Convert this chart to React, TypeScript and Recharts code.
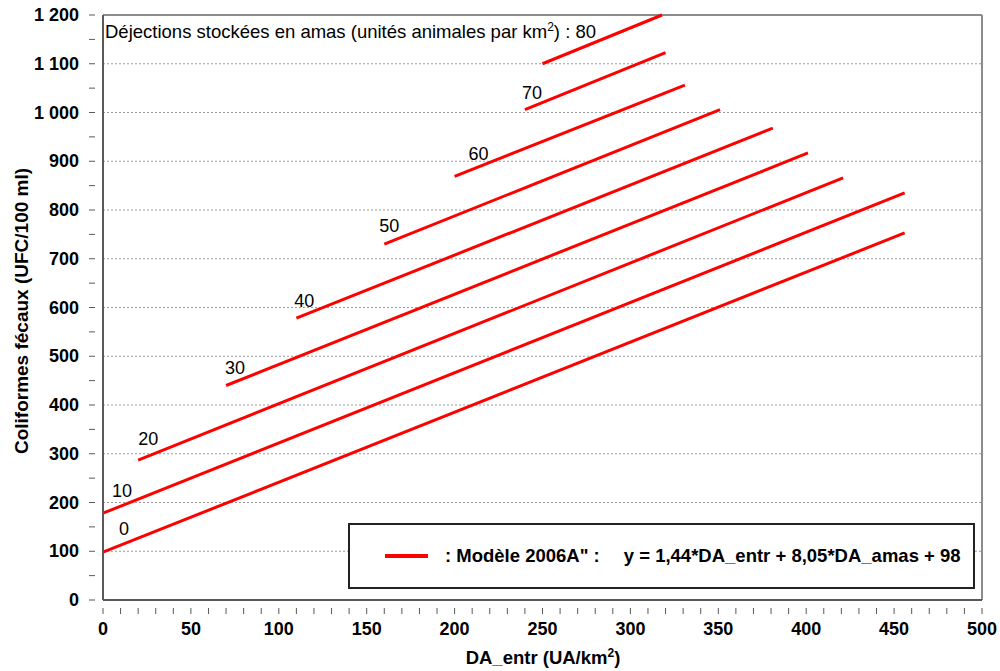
import React from "react";
import {
  LineChart,
  Line,
  XAxis,
  YAxis,
  ReferenceLine,
} from "recharts";

// DA_amas levels, one red line each
const amasLevels = [0, 10, 20, 30, 40, 50, 60, 70, 80];
const startX = [0, 0, 20, 70, 110, 160, 200, 240, 250];
const startY = [98, 178, 287, 440, 578, 730, 869, 1006, 1100];
const endX = [456, 456, 421, 401, 381, 351, 331, 320, 318];
const endY = [753, 835, 866, 917, 968, 1006, 1056, 1123, 1200];

const xTicks = Array.from({ length: 51 }, (_, i) => i * 10);
const yTicks = Array.from({ length: 25 }, (_, i) => i * 50);
const gridValues = [100, 200, 300, 400, 500, 600, 700, 800, 900, 1000, 1100];

// pixel offset of each level label from the start of its line
const labelOffsets: Array<[number, number] | null> = [
  [21, -23],
  [19, -22],
  [10, -21],
  [9, -18],
  [8, -17],
  [5, -18],
  [24, -22],
  [7, -17],
  null,
];

const FONT = '"Liberation Sans", Arial, sans-serif';
const RED = "#ff0000";

const series = amasLevels.map((level, i) => ({
  level,
  data: [
    { x: startX[i], y: startY[i] },
    { x: endX[i], y: endY[i] },
  ],
}));

function formatThousands(v: number) {
  return String(v).replace(/\B(?=(\d{3})+(?!\d))/g, " ");
}

function XTick({ x, y, payload }: any) {
  const v = payload.value as number;
  return (
    <g>
      <line x1={x} x2={x} y1={y} y2={y + 6} stroke="#595959" strokeWidth={1} />
      {v % 50 === 0 && (
        <text x={x} y={y + 27} textAnchor="middle" fontFamily={FONT} fontSize={18} fontWeight="bold" fill="#000">
          {v}
        </text>
      )}
    </g>
  );
}

function YTick({ x, y, payload }: any) {
  const v = payload.value as number;
  return (
    <g>
      <line x1={x - 6} x2={x} y1={y} y2={y} stroke="#595959" strokeWidth={1} />
      {v % 100 === 0 && (
        <text x={x - 16} y={y + 6} textAnchor="end" fontFamily={FONT} fontSize={18} fontWeight="bold" fill="#000">
          {formatThousands(v)}
        </text>
      )}
    </g>
  );
}

function levelLabel(i: number) {
  return (props: any) => {
    const off = labelOffsets[i];
    if (!off || props.index !== 0) return null;
    return (
      <text
        x={props.x + off[0]}
        y={props.y + off[1] + 6}
        textAnchor="middle"
        fontFamily={FONT}
        fontSize={18}
        fill="#000"
      >
        {amasLevels[i]}
      </text>
    );
  };
}

export default function App() {
  return (
    <div style={{ position: "absolute", left: 0, top: 0, width: 1000, height: 671, background: "#fff", fontFamily: FONT }}>
      <LineChart width={1000} height={671} margin={{ top: 15, right: 18, bottom: 0, left: 0 }}>
        {gridValues.map((v) => (
          <ReferenceLine key={v} y={v} stroke="#9a9a9a" strokeWidth={1} strokeDasharray="2 2" />
        ))}
        <ReferenceLine y={1200} stroke="#8c8c8c" strokeWidth={2} />
        <ReferenceLine x={500} stroke="#8c8c8c" strokeWidth={2} />
        <XAxis
          type="number"
          dataKey="x"
          domain={[0, 500]}
          ticks={xTicks}
          interval={0}
          height={71}
          stroke="#595959"
          strokeWidth={2}
          tickLine={false}
          tick={<XTick />}
          allowDuplicatedCategory={false}
        />
        <YAxis
          type="number"
          dataKey="y"
          domain={[0, 1200]}
          ticks={yTicks}
          interval={0}
          width={103}
          stroke="#595959"
          strokeWidth={2}
          tickLine={false}
          tick={<YTick />}
        />
        {series.map((s, i) => (
          <Line
            key={s.level}
            data={s.data}
            dataKey="y"
            type="linear"
            stroke={RED}
            strokeWidth={3}
            dot={false}
            activeDot={false}
            label={levelLabel(i)}
            isAnimationActive={false}
          />
        ))}
        <text
          transform="translate(28, 311) rotate(-90)"
          textAnchor="middle"
          fontFamily={FONT}
          fontSize={19}
          fontWeight="bold"
          fill="#000"
        >
          Coliformes fécaux (UFC/100 ml)
        </text>
        <text x={543} y={664} textAnchor="middle" fontFamily={FONT} fontSize={18.5} fontWeight="bold" fill="#000">
          DA_entr (UA/km
          <tspan fontSize={12} dy={-7}>2</tspan>
          <tspan dy={7}>)</tspan>
        </text>
        <text x={105} y={38} fontFamily={FONT} fontSize={18.5} fill="#000">
          Déjections stockées en amas (unités animales par km
          <tspan fontSize={12} dy={-7}>2</tspan>
          <tspan dy={7}>) : 80</tspan>
        </text>
      </LineChart>

      {/* model legend */}
      <div
        style={{
          position: "absolute",
          left: 348,
          top: 523,
          width: 623,
          height: 62,
          border: "2px solid #222",
          background: "#fff",
          display: "flex",
          alignItems: "center",
          fontSize: 18.5,
          fontWeight: "bold",
          color: "#000",
          boxSizing: "content-box",
        }}
      >
        <div style={{ width: 43, height: 4, background: RED, marginLeft: 35, marginRight: 17 }} />
        <span style={{ whiteSpace: "pre" }}>: Modèle 2006A" :</span>
        <span style={{ marginLeft: 24, whiteSpace: "pre" }}>y = 1,44*DA_entr + 8,05*DA_amas + 98</span>
      </div>
    </div>
  );
}
